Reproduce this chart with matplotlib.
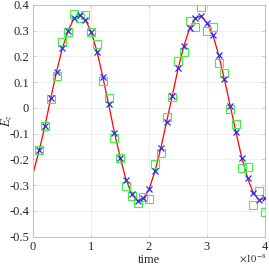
import numpy as np
import matplotlib
matplotlib.use("Agg")
import matplotlib.pyplot as plt
from matplotlib.ticker import ScalarFormatter

plt.rcParams['font.family'] = ['Liberation Serif', 'DejaVu Serif']
plt.rcParams['mathtext.fontset'] = 'stix'
plt.rcParams['axes.unicode_minus'] = False

# time in units of 1e-8 s
t_line = [0.0, 0.1, 0.2, 0.3, 0.4, 0.5, 0.6, 0.7, 0.8, 0.9, 1.0,
          1.1, 1.2, 1.3, 1.4, 1.5, 1.6, 1.7, 1.8, 1.9, 2.0,
          2.1, 2.2, 2.3, 2.4, 2.5, 2.6, 2.7, 2.8, 2.9, 3.0,
          3.1, 3.2, 3.3, 3.4, 3.5, 3.6, 3.7, 3.8, 3.9, 4.0]
ez_exact = [-0.250, -0.166, -0.070, 0.037, 0.140, 0.231, 0.300, 0.347, 0.360, 0.343, 0.294,
            0.219, 0.120, 0.014, -0.095, -0.193, -0.278, -0.335, -0.362, -0.351, -0.315,
            -0.246, -0.157, -0.055, 0.048, 0.153, 0.241, 0.310, 0.349, 0.357, 0.330,
            0.284, 0.206, 0.111, 0.008, -0.095, -0.194, -0.273, -0.331, -0.357, -0.351]

t_pts = [0.1, 0.2, 0.3, 0.4, 0.5, 0.6, 0.7, 0.8, 0.9, 1.0,
         1.1, 1.2, 1.3, 1.4, 1.5, 1.6, 1.7, 1.8, 1.9, 2.0,
         2.1, 2.2, 2.3, 2.4, 2.5, 2.6, 2.7, 2.8, 2.9, 3.0,
         3.1, 3.2, 3.3, 3.4, 3.5, 3.6, 3.7, 3.8, 3.9, 4.0]
ez_blue = [-0.165, -0.070, 0.038, 0.141, 0.232, 0.300, 0.348, 0.359, 0.342, 0.293,
           0.218, 0.119, 0.014, -0.096, -0.193, -0.278, -0.335, -0.362, -0.350, -0.315,
           -0.245, -0.157, -0.055, 0.048, 0.154, 0.241, 0.310, 0.348, 0.357, 0.329,
           0.284, 0.206, 0.111, 0.008, -0.095, -0.194, -0.273, -0.331, -0.357, -0.351]
ez_green = [-0.165, -0.072, 0.035, 0.124, 0.258, 0.293, 0.365, 0.351, 0.359, 0.294,
            0.249, 0.104, 0.038, -0.115, -0.193, -0.302, -0.341, -0.368, -0.345, -0.355,
            -0.219, -0.176, -0.034, 0.044, 0.184, 0.216, 0.339, 0.313, 0.391, 0.300,
            0.316, 0.174, 0.137, -0.003, -0.063, -0.232, -0.229, -0.377, -0.322, -0.403]

t_line = np.array(t_line) * 1e-8
t_pts = np.array(t_pts) * 1e-8

fig = plt.figure(figsize=(2.69, 2.67), dpi=100)
ax = fig.add_axes([0.124, 0.1135, 0.861, 0.868])

ax.plot(t_line, ez_exact, color='red', lw=0.9, zorder=2)
ax.plot(t_pts, ez_green, ls='none', marker='s', ms=6, mfc='none', mec='#44f044', mew=0.8, zorder=3)
ax.plot(t_pts, ez_blue, ls='none', marker='x', ms=4.5, color='#2a2aff', mew=0.9, zorder=4)

ax.set_xlim(0, 4e-8)
ax.set_ylim(-0.5, 0.4)
ax.set_xticks([0, 1e-8, 2e-8, 3e-8, 4e-8])
ax.set_yticks(np.arange(-0.5, 0.41, 0.1))
ax.set_yticklabels(['-0.5', '-0.4', '-0.3', '-0.2', '-0.1', '0', '0.1', '0.2', '0.3', '0.4'])
fmt = ScalarFormatter(useMathText=True)
ax.xaxis.set_major_formatter(fmt)
ax.xaxis.get_offset_text().set_visible(False)
ax.text(1.005, -0.07, r'$\times10^{-8}$', transform=ax.transAxes, ha='right', va='top',
        fontsize=7.5, color='#262626')

ax.grid(True, color='#ececec', lw=0.6)
ax.set_axisbelow(True)
for s in ax.spines.values():
    s.set_color('#c4c4c4')
    s.set_linewidth(0.8)
ax.tick_params(direction='in', length=2.5, width=0.6, color='#c4c4c4', top=True, right=True,
               labelsize=9, labelcolor='#262626', pad=3)

ax.set_xlabel('time', fontsize=9, color='#262626', labelpad=1)
ax.set_ylabel(r'$E_z$', fontsize=9, color='#262626')
ax.yaxis.set_label_coords(-0.082, 0.5)

fig.savefig('out.png', dpi=100)
